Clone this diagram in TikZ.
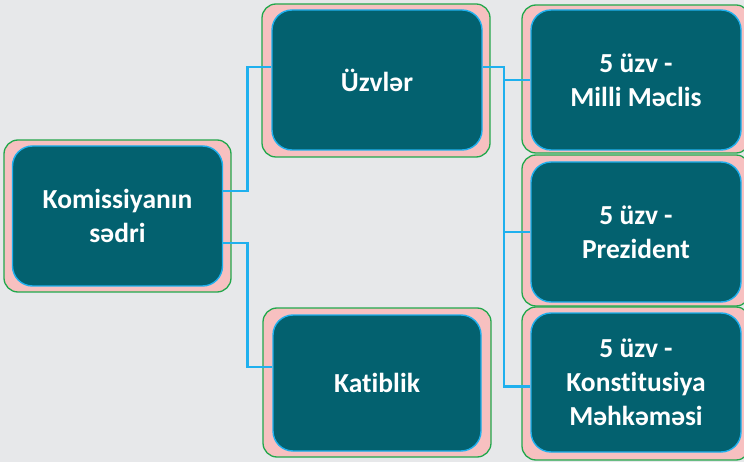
\documentclass[tikz,border=0pt]{standalone}
\usepackage{fontspec}
\setmainfont{Carlito}[Ligatures=NoCommon]
\usetikzlibrary{calc}

\definecolor{bgcol}{HTML}{E7E8EA}
\definecolor{tealbox}{HTML}{03616F}
\definecolor{linkblue}{HTML}{1FB0EE}
\definecolor{ringpink}{HTML}{F7C0C0}
\definecolor{ringgreen}{HTML}{22A84C}

\begin{document}
\begin{tikzpicture}[x=1pt,y=-1pt,
                    frame/.style={rectangle,rounded corners=14pt,fill=ringpink,draw=ringgreen,line width=1.3pt,inner sep=0pt},
                    box/.style={rectangle,rounded corners=20pt,fill=tealbox,draw=linkblue,line width=1.4pt,
                                minimum width=210pt,minimum height=140pt,inner sep=0pt,align=center,
                                text=white,font=\fontsize{27.5}{34}\selectfont\bfseries},
                    link/.style={draw=linkblue,line width=2.6pt}]
  \useasboundingbox (0,0) rectangle (744,462);
  \fill[bgcol] (0,0) rectangle (744,462);

  % outer rings
  \node[frame,minimum width=227pt,minimum height=152pt] (f-chair) at (117.5,216) {};
  \node[frame,minimum width=228pt,minimum height=153pt] (f-members) at (376,80.5) {};
  \node[frame,minimum width=228pt,minimum height=149pt] (f-secr) at (377,382.5) {};
  \node[frame,minimum width=228pt,minimum height=148pt] (f-milli) at (636,79) {};
  \node[frame,minimum width=228pt,minimum height=151pt] (f-prez) at (636,230.5) {};
  \node[frame,minimum width=228pt,minimum height=153pt] (f-konst) at (636,383.5) {};

  % boxes
  \node[box] (chair) at (117.5,216) {Komissiyanın\\sədri};
  \node[box] (members) at (377,80) {Üzvlər};
  \node[box,minimum width=208pt,minimum height=136pt] (secr) at (377,383) {Katiblik};
  \node[box] (milli) at (636,80) {5 üzv -\\Milli Məclis};
  \node[box] (prez) at (636,232) {5 üzv -\\Prezident};
  \node[box,minimum height=139pt] (konst) at (636,382.5) {5 üzv -\\Konstitusiya\\Məhkəməsi};

  % connectors
  \coordinate (bus) at (504,0);
  \coordinate (k-in) at ([yshift=-4pt]konst.west);
  \draw[link] ([yshift=25pt]chair.east) -- ++(24.5,0) |- ([yshift=13pt]members.west);
  \draw[link] ([yshift=-27pt]chair.east) -- ++(24.5,0) |- ([yshift=16pt]secr.west);
  \draw[link] ([yshift=13pt]members.east) -| (bus |- k-in) -- (k-in);
  \draw[link] (bus |- milli.west) -- (milli.west);
  \draw[link] (bus |- prez.west) -- (prez.west);
\end{tikzpicture}
\end{document}
